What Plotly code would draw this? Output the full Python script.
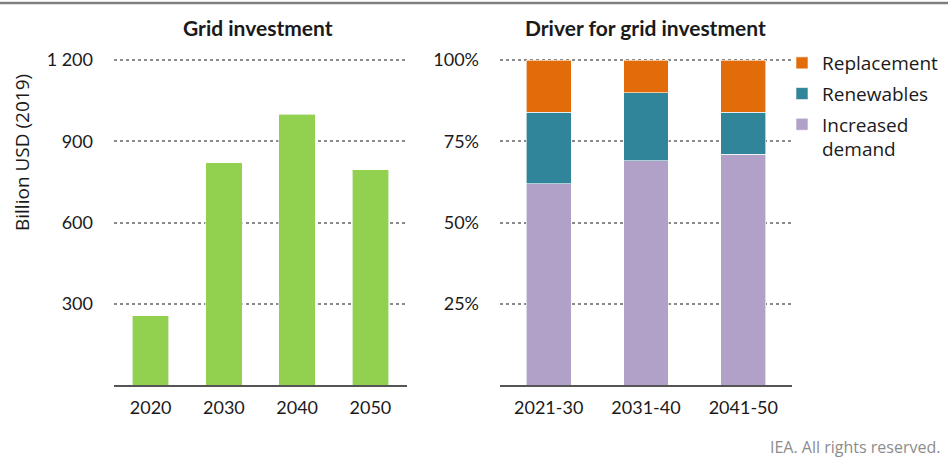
import plotly.graph_objects as go

# Grid investment by year (billion USD 2019)
years = ["2020", "2030", "2040", "2050"]
investment = [255, 820, 1000, 795]

# Share of investment by driver per decade
periods = ["2021-30", "2031-40", "2041-50"]
increased_demand = [0.62, 0.69, 0.71]
renewables = [0.22, 0.21, 0.13]
replacement = [0.16, 0.10, 0.16]

left_ticks = [300, 600, 900, 1200]
left_ticktext = ["300", "600", "900", "1 200"]
right_ticks = [0.25, 0.5, 0.75, 1.0]
right_ticktext = ["25%", "50%", "75%", "100%"]

GREEN = "#92D050"
PURPLE = "#B1A0C7"
TEAL = "#31859B"
ORANGE = "#E36C0A"
FONT = "Lato"

W, H = 948, 457
fig = go.Figure()

fig.add_trace(go.Bar(
    x=years, y=investment, width=0.5,
    marker=dict(color=GREEN, line=dict(color="white", width=0.6)),
    xaxis="x", yaxis="y", showlegend=False, hoverinfo="x+y"))

for name, vals, col, rank in [("Increased<br>demand", increased_demand, PURPLE, 3),
                              ("Renewables", renewables, TEAL, 2),
                              ("Replacement", replacement, ORANGE, 1)]:
    fig.add_trace(go.Bar(
        x=periods, y=vals, name=name, legendgroup=name, legendrank=rank, width=0.46,
        marker=dict(color=col, line=dict(color="white", width=0.6)),
        xaxis="x2", yaxis="y2"))

# plot area: value 0 at 385 px, top tick at 60 px; ranges padded a little so
# the top gridline stays visible
base_px, top_px = 385, 60
pad = 0.01
top_dom_px = top_px - (base_px - top_px) * pad
y0 = (H - base_px) / H
y1 = (H - top_dom_px) / H

grid = dict(showgrid=True, gridcolor="#8a8a8a", gridwidth=1.5, griddash="dot",
            zeroline=False, ticks="", ticklabelstandoff=20, automargin=False,
            tickfont=dict(family=FONT, size=18, color="#1a1a1a"), fixedrange=True)
xax = dict(showgrid=False, zeroline=False, showline=True, linecolor="#555555", linewidth=1.5,
           ticks="", ticklabelstandoff=6, automargin=False,
           tickfont=dict(family=FONT, size=18, color="#1a1a1a"), fixedrange=True)

fig.update_layout(
    width=W, height=H, margin=dict(l=0, r=0, t=0, b=0, autoexpand=False),
    paper_bgcolor="white", plot_bgcolor="white",
    barmode="stack",
    xaxis=dict(domain=[114 / W, 407 / W], anchor="y", **xax),
    yaxis=dict(domain=[y0, y1], anchor="x", range=[0, 1200 * (1 + pad)],
               tickvals=left_ticks, ticktext=left_ticktext, **grid),
    xaxis2=dict(domain=[500 / W, 792 / W], anchor="y2", **xax),
    yaxis2=dict(domain=[y0, y1], anchor="x2", range=[0, 1 + pad],
                tickvals=right_ticks, ticktext=right_ticktext, **grid),
    legend=dict(x=782 / W, y=1 - 44 / H, xanchor="left", yanchor="top",
                traceorder="grouped", tracegroupgap=3, valign="top",
                font=dict(family="Open Sans", size=19, color="#1a1a1a"),
                bgcolor="rgba(0,0,0,0)"),
    shapes=[dict(type="line", xref="paper", yref="paper", x0=0, x1=1,
                 y0=1 - 3 / H, y1=1 - 3 / H, line=dict(color="#7f7f7f", width=2.5))],
    annotations=[
        dict(text="<b>Grid investment</b>", x=258 / W, y=1 - 27 / H, xref="paper", yref="paper",
             xanchor="center", yanchor="middle",
             showarrow=False, font=dict(family=FONT, size=21, color="#1a1a1a")),
        dict(text="<b>Driver for grid investment</b>", x=645 / W, y=1 - 27 / H, xref="paper",
             yref="paper", xanchor="center", yanchor="middle",
             showarrow=False, font=dict(family=FONT, size=21, color="#1a1a1a")),
        dict(text="Billion USD (2019)", x=22 / W, y=1 - 153 / H, xref="paper", yref="paper",
             xanchor="center", yanchor="middle",
             textangle=-90, showarrow=False, font=dict(family="Open Sans", size=19, color="#1a1a1a")),
        dict(text="IEA. All rights reserved.", x=942 / W, y=1 - 447 / H, xref="paper",
             yref="paper", xanchor="right", yanchor="middle", showarrow=False,
             font=dict(family="Open Sans", size=16, color="#8c8c8c")),
    ],
)

fig.write_html("out.html")
